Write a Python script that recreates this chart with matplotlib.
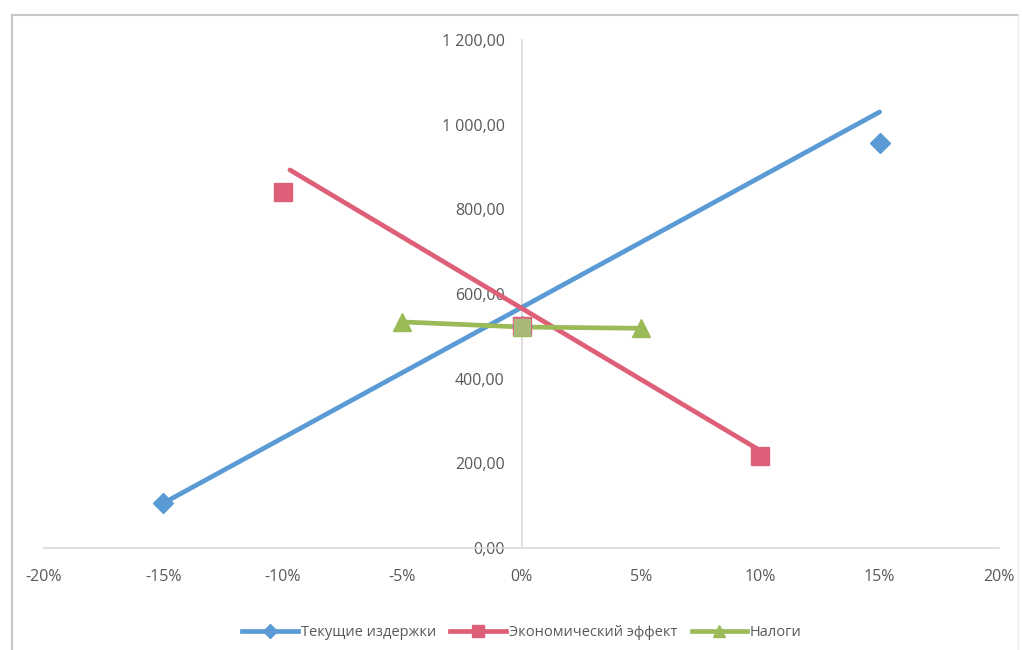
import matplotlib
matplotlib.use('Agg')
import matplotlib.pyplot as plt
from matplotlib.lines import Line2D

plt.rcParams['font.family'] = ['Open Sans', 'DejaVu Sans']

# данные
x_ticks = [-0.20, -0.15, -0.10, -0.05, 0.0, 0.05, 0.10, 0.15, 0.20]
x_labels = ['-20%', '-15%', '-10%', '-5%', '0%', '5%', '10%', '15%', '20%']
y_ticks = [0, 200, 400, 600, 800, 1000, 1200]
y_labels = ['0,00', '200,00', '400,00', '600,00', '800,00', '1 000,00', '1 200,00']

names = ['Текущие издержки', 'Экономический эффект', 'Налоги']

costs_x = [-0.15, 0.0, 0.15]
costs_y = [106, 525, 956]
costs_line_x = [-0.15, 0.15]
costs_line_y = [106, 1030]

effect_x = [-0.10, 0.0, 0.10]
effect_y = [840, 525, 218]
effect_line_x = [-0.097, 0.10]
effect_line_y = [893, 230]

tax_x = [-0.05, 0.0, 0.05]
tax_y = [534, 522, 519]

blue = '#5B9BD5'
red = '#DE6078'
green = '#9BBB59'
grey = '#595959'

fig = plt.figure(figsize=(10.22, 6.5), dpi=100)
W, H = 1022, 650
ax = fig.add_axes([44 / W, (H - 548) / H, (999 - 44) / W, (548 - 40) / H])

# линии
ax.plot(costs_line_x, costs_line_y, color=blue, lw=3.4, solid_capstyle='round', zorder=3)
ax.plot(effect_line_x, effect_line_y, color=red, lw=3.4, solid_capstyle='round', zorder=3)
ax.plot(tax_x, tax_y, color=green, lw=3.4, zorder=3)

# маркеры
ax.plot(costs_x, costs_y, ls='none', marker='D', ms=10, color=blue, zorder=4)
ax.plot(effect_x, effect_y, ls='none', marker='s', ms=13, color=red, zorder=4)
ax.plot(tax_x, tax_y, ls='none', marker='^', ms=13, color=green, zorder=5)
ax.plot([0.0], [tax_y[1]], ls='none', marker='s', ms=12, color='#A8B878', zorder=5)

ax.set_xlim(-0.20, 0.20)
ax.set_ylim(0, 1200)

ax.spines['top'].set_visible(False)
ax.spines['right'].set_visible(False)
ax.spines['left'].set_position(('data', 0))
ax.spines['bottom'].set_position(('data', 0))
for s in ('left', 'bottom'):
    ax.spines[s].set_color('#d9d9d9')
    ax.spines[s].set_linewidth(1.2)

ax.set_xticks(x_ticks)
ax.set_xticklabels(x_labels)
ax.set_yticks(y_ticks)
ax.set_yticklabels(y_labels)
ax.tick_params(axis='both', length=0, labelsize=11.5, labelcolor=grey)
ax.tick_params(axis='y', pad=12)
ax.tick_params(axis='x', pad=15)
ax.patch.set_alpha(0)

# легенда
handles = [
    Line2D([], [], color=blue, lw=3.4, marker='D', ms=7),
    Line2D([], [], color=red, lw=3.4, marker='s', ms=8),
    Line2D([], [], color=green, lw=3.4, marker='^', ms=8),
]
fig.legend(handles, names, loc='center', bbox_to_anchor=(522 / W, (H - 633) / H),
           ncol=3, frameon=False, fontsize=10.5, labelcolor=grey,
           handlelength=3.8, handletextpad=0.2, columnspacing=1.0)

# рамка диаграммы
border = dict(color='#c8c8c8', lw=1.5, transform=fig.transFigure)
fig.add_artist(Line2D([12 / W, 12 / W], [0, (H - 15) / H], **border))
fig.add_artist(Line2D([12 / W, 1018 / W], [(H - 15) / H, (H - 15) / H], **border))
fig.add_artist(Line2D([1018 / W, 1018 / W], [0, (H - 15) / H], color='#ececec', lw=1,
                      transform=fig.transFigure))

fig.savefig('out.png', dpi=100)
